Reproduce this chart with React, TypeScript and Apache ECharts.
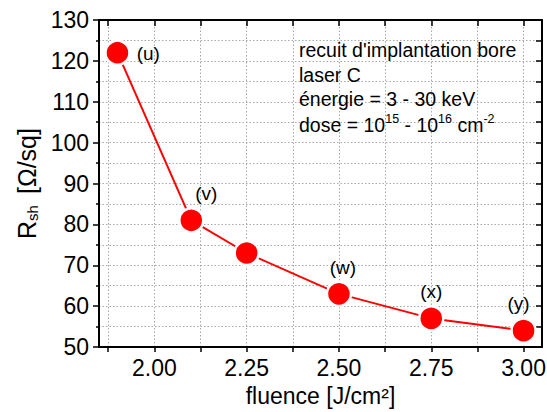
import React, { useEffect, useRef } from 'react';
import * as echarts from 'echarts';

const fluence = [1.9, 2.1, 2.25, 2.5, 2.75, 3.0];
const rsh = [122, 81, 73, 63, 57, 54];
const pointLabels = ['(u)', '(v)', '', '(w)', '(x)', '(y)'];
const xMajorTicks = [2.0, 2.25, 2.5, 2.75, 3.0];
const xAllTicks = [1.875, 2.0, 2.125, 2.25, 2.375, 2.5, 2.625, 2.75, 2.875, 3.0];
const yTickMin = 50;
const yTickMax = 130;
const yTickStep = 10;
const annotationLines = [
  'recuit d\'implantation bore',
  'laser C',
  'énergie = 3 - 30 keV',
  '{n|dose = 10}{s|15}{n| - 10}{s|16}{n| cm}{s|-2}',
];

const FONT = '"Liberation Sans", Arial, Helvetica, sans-serif';

export default function App() {
  const ref = useRef<HTMLDivElement>(null);
  useEffect(() => {
    if (!ref.current) return;
    const chart = echarts.init(ref.current, undefined, { renderer: 'svg' });

    const labelLayouts: any[] = [
      { position: 'right', distance: 6, offset: [0, 1] },
      { position: 'top', distance: 4, offset: [15, 0] },
      { show: false },
      { position: 'top', distance: 4, offset: [4, 0] },
      { position: 'top', distance: 4, offset: [0, 0] },
      { position: 'top', distance: 4, offset: [-5, 0] },
    ];

    const data = fluence.map((x, i) => ({
      value: [x, rsh[i]],
      label: {
        show: pointLabels[i] !== '',
        formatter: pointLabels[i],
        fontSize: 19,
        fontFamily: FONT,
        color: '#000',
        ...labelLayouts[i],
      },
    }));

    const gridStyle = { color: '#a8a8a8', width: 1, type: [1.5, 2] as any };
    const axisLineStyle = { color: '#000', width: 2 };

    const annoY = [50, 74.5, 99, 123.5];

    chart.setOption({
      animation: false,
      backgroundColor: '#fff',
      grid: { left: 99, right: 5, top: 20, bottom: 65, containLabel: false, outerBoundsMode: 'none' },
      xAxis: [
        {
          type: 'value',
          position: 'bottom',
          min: 1.85,
          max: 3.05,
          axisLine: { show: true, onZero: false, lineStyle: axisLineStyle },
          axisTick: { show: true, inside: false, length: 5, customValues: xAllTicks, lineStyle: { color: '#000', width: 1.5 } },
          axisLabel: {
            customValues: xMajorTicks,
            formatter: (v: number) => v.toFixed(2),
            fontSize: 23,
            fontFamily: FONT,
            color: '#000',
            margin: 9,
          },
          splitLine: { show: true, lineStyle: gridStyle },
          name: 'fluence [J/cm²]',
          nameLocation: 'middle',
          nameGap: 37,
          nameTextStyle: { fontSize: 23, fontFamily: FONT, color: '#000' },
        },
        {
          type: 'value',
          position: 'top',
          min: 1.85,
          max: 3.05,
          axisLine: { show: true, onZero: false, lineStyle: axisLineStyle },
          axisTick: { show: true, inside: true, length: 6, customValues: xAllTicks, lineStyle: { color: '#000', width: 1.5 } },
          axisLabel: { show: false },
          splitLine: { show: false },
        },
      ],
      yAxis: [
        {
          type: 'value',
          position: 'left',
          min: yTickMin,
          max: yTickMax,
          interval: yTickStep,
          axisLine: { show: true, onZero: false, lineStyle: axisLineStyle },
          axisTick: { show: true, inside: false, length: 6, lineStyle: { color: '#000', width: 1.5 } },
          minorTick: { show: true, splitNumber: 2, length: 3, lineStyle: { color: '#000', width: 1.5 } },
          axisLabel: { fontSize: 23, fontFamily: FONT, color: '#000', margin: 10 },
          splitLine: { show: true, lineStyle: gridStyle },
          minorSplitLine: { show: true, lineStyle: gridStyle },
          name: '{r|R}{s|sh }{r| [Ω/sq]}',
          nameLocation: 'middle',
          nameRotate: 90,
          nameGap: 53,
          nameTextStyle: {
            fontFamily: FONT,
            color: '#000',
            rich: {
              r: { fontSize: 25, fontFamily: FONT, color: '#000', lineHeight: 25, verticalAlign: 'top' },
              s: { fontSize: 15, fontFamily: FONT, color: '#000', lineHeight: 15, verticalAlign: 'bottom', padding: [25, 0, 0, 0] },
            },
          },
        },
        {
          type: 'value',
          position: 'right',
          min: yTickMin,
          max: yTickMax,
          interval: yTickStep,
          axisLine: { show: true, onZero: false, lineStyle: axisLineStyle },
          axisTick: { show: true, inside: true, length: 6, lineStyle: { color: '#000', width: 1.5 } },
          minorTick: { show: true, splitNumber: 2, length: 6, lineStyle: { color: '#000', width: 1.5 } },
          axisLabel: { show: false },
          splitLine: { show: false },
        },
      ],
      graphic: annotationLines.map((t, i) => ({
        type: 'text',
        x: 299,
        y: annoY[i],
        z: 100,
        style: {
          text: t,
          fontSize: 19.5,
          fontFamily: FONT,
          fill: '#000',
          verticalAlign: 'middle',
          align: 'left',
          rich: {
            n: { fontSize: 19.5, fontFamily: FONT, fill: '#000', lineHeight: 22, verticalAlign: 'bottom' },
            s: { fontSize: 12.5, fontFamily: FONT, fill: '#000', lineHeight: 12, verticalAlign: 'top' },
          },
        },
      })),
      series: [
        {
          type: 'line',
          xAxisIndex: 0,
          yAxisIndex: 0,
          data,
          symbol: 'circle',
          symbolSize: 24,
          lineStyle: { color: '#ff0000', width: 2 },
          itemStyle: { color: '#ff0000', borderColor: '#ffffff', borderWidth: 2.5 },
          z: 5,
        },
      ],
    });
    return () => chart.dispose();
  }, []);
  return <div ref={ref} style={{ position: 'absolute', left: 0, top: 0, width: 547, height: 412 }} />;
}
